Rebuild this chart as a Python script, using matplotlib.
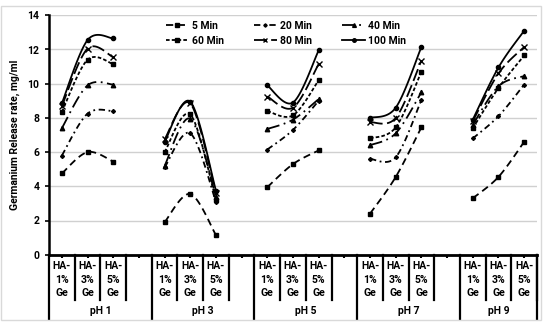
import numpy as np
import matplotlib
matplotlib.use("Agg")
import matplotlib.pyplot as plt
from matplotlib.lines import Line2D
from matplotlib.transforms import blended_transform_factory

plt.rcParams['font.family'] = ['Roboto', 'DejaVu Sans']
plt.rcParams['font.weight'] = 'bold'
plt.rcParams['axes.labelweight'] = 'bold'
plt.rcParams['font.size'] = 7.5

# categories
ph_groups = ['pH 1', 'pH 3', 'pH 5', 'pH 7', 'pH 9']
ha_labels = ['HA-\n1%\nGe', 'HA-\n3%\nGe', 'HA-\n5%\nGe']

# release rate, mg/ml (3 HA samples per pH group)
min5 = [4.75, 6.0, 5.45, 1.9, 3.55, 1.15, 3.95, 5.3, 6.1, 2.4, 4.55, 7.45, 3.3, 4.55, 6.6]
min20 = [5.8, 8.25, 8.4, 5.1, 7.1, 3.1, 6.15, 7.3, 9.0, 5.6, 5.7, 9.05, 6.8, 8.1, 9.95]
min40 = [7.4, 9.9, 9.95, 5.2, 7.95, 3.4, 7.35, 7.9, 9.1, 6.4, 7.1, 9.5, 7.6, 9.85, 10.45]
min60 = [8.35, 11.4, 11.15, 6.0, 8.2, 3.2, 8.4, 8.15, 10.2, 6.8, 7.45, 10.7, 7.4, 9.75, 11.65]
min80 = [8.7, 12.05, 11.55, 6.75, 8.85, 3.6, 9.25, 8.6, 11.15, 7.75, 8.0, 11.35, 7.8, 10.6, 12.15]
min100 = [8.85, 12.55, 12.65, 6.6, 8.95, 3.75, 9.9, 8.9, 11.95, 8.0, 8.6, 12.15, 7.9, 10.95, 13.1]

series = [
    ('5 Min', min5, (0, (4, 2.5)), 's', 3.2),
    ('20 Min', min20, (0, (3.5, 2, 1, 2)), 'D', 2.0),
    ('40 Min', min40, (0, (7, 2.5, 1, 2.5)), '^', 3.2),
    ('60 Min', min60, (0, (2, 1.2)), 's', 3.2),
    ('80 Min', min80, (0, (7, 2.5)), 'x', 4.0),
    ('100 Min', min100, '-', 'o', 3.0),
]


def smooth(xs, ys, n=30):
    # excel-like smoothed line (bezier through points)
    pts = np.column_stack([xs, ys]).astype(float)
    out = []
    for i in range(len(pts) - 1):
        p0 = pts[max(i - 1, 0)]
        p1 = pts[i]
        p2 = pts[i + 1]
        p3 = pts[min(i + 2, len(pts) - 1)]
        c1 = p1 + (p2 - p0) / 6
        c2 = p2 - (p3 - p1) / 6
        t = np.linspace(0, 1, n)[:, None]
        seg = (1 - t) ** 3 * p1 + 3 * (1 - t) ** 2 * t * c1 + 3 * (1 - t) * t ** 2 * c2 + t ** 3 * p2
        out.append(seg)
    return np.vstack(out)


fig = plt.figure(figsize=(5.5, 3.27), dpi=100)
ax = fig.add_axes([49 / 550, (327 - 254.7) / 327, (537 - 49) / 550, (254.7 - 15.3) / 327])

handles = []
for name, vals, ls, mk, ms in series:
    for g in range(len(ph_groups)):
        xs = [g * 4 + k for k in range(3)]
        ys = vals[g * 3:g * 3 + 3]
        c = smooth(xs, ys)
        ax.plot(c[:, 0], c[:, 1], color='black', lw=1.3, linestyle=ls)
        ax.plot(xs, ys, color='black', linestyle='none', marker=mk, ms=ms, mew=1.0)
    handles.append(Line2D([], [], color='black', lw=1.3, linestyle=ls, marker=mk, ms=ms * 0.85, label=name))

ax.set_xlim(-0.5, 18.5)
ax.set_ylim(0, 14)
ax.set_yticks(range(0, 15, 2))
ax.set_xticks(range(19))
ax.set_xticklabels([])
ax.tick_params(axis='x', direction='out', length=2.5, width=1.5)
ax.tick_params(axis='y', direction='out', length=3, width=1.2, pad=4)
ax.grid(axis='y', color='#d0d0d0', lw=1)
ax.set_axisbelow(True)
for s in ['top', 'right']:
    ax.spines[s].set_visible(False)
ax.spines['left'].set_linewidth(1.8)
ax.spines['bottom'].set_linewidth(2)

ax.set_ylabel('Germanium Release rate, mg/ml', labelpad=5)

# multi level category axis
tr = blended_transform_factory(ax.transData, ax.transAxes)
for g, ph in enumerate(ph_groups):
    start = g * 4
    for k, lab in enumerate(ha_labels):
        ax.text(start + k, -0.104, lab, ha='center', va='center', transform=tr, linespacing=1.4)
        if k > 0:
            ax.plot([start + k - 0.5] * 2, [0, -0.191], color='black', lw=1.6, transform=tr, clip_on=False)
    ax.plot([start + 2.5] * 2, [0, -0.191], color='black', lw=1.6, transform=tr, clip_on=False)
    end = min(start + 3.5, 18.5)
    ax.plot([start - 0.5] * 2, [0, -0.269], color='black', lw=1.6, transform=tr, clip_on=False)
    ax.text((start - 0.5 + end) / 2, -0.235, ph, ha='center', va='center', transform=tr)
ax.plot([18.5] * 2, [0, -0.269], color='black', lw=1.6, transform=tr, clip_on=False)

order = [0, 3, 1, 4, 2, 5]
ax.legend([handles[i] for i in order], [handles[i].get_label() for i in order],
          ncol=3, frameon=False, loc='upper left', bbox_to_anchor=(0.22, 1.015),
          handlelength=2.2, handletextpad=0.3, columnspacing=2.9, labelspacing=0.45)

fig.patches.append(plt.Rectangle((1 / 550, 1 - 320 / 327), 540 / 550, 314 / 327, transform=fig.transFigure,
                                 fill=False, edgecolor='#d9d9d9', lw=1))

fig.savefig('out.png', dpi=100)
